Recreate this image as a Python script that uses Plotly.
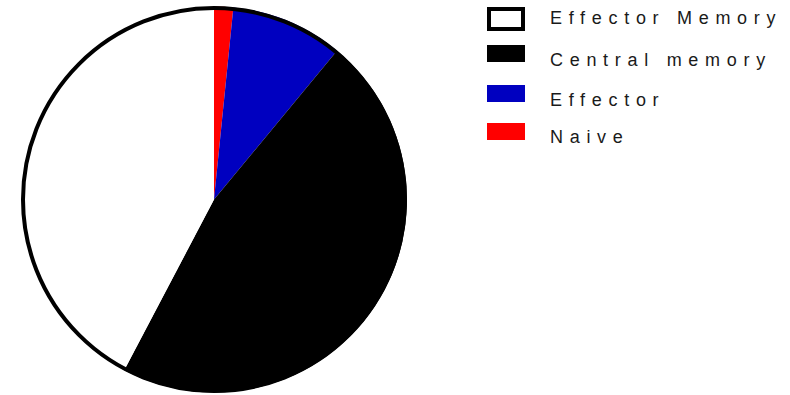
import plotly.graph_objects as go

# T-cell subset composition (percent), drawn clockwise from 12 o'clock
labels = ["Naive", "Effector", "Central memory", "Effector Memory"]
values = [1.6, 9.4, 46.7, 42.3]
colors = ["#FF0000", "#0000C0", "#000000", "#FFFFFF"]

# legend order, top to bottom
legend_order = ["Effector Memory", "Central memory", "Effector", "Naive"]

W, H = 790, 395


def px_x(x):
    return x / W


def px_y(y):
    return 1 - y / H


fig = go.Figure()
fig.add_trace(go.Pie(
    labels=labels,
    values=values,
    sort=False,
    direction="clockwise",
    rotation=0,
    marker=dict(colors=colors, line=dict(width=0)),
    textinfo="none",
    hoverinfo="label+percent",
    showlegend=False,
    domain=dict(x=[px_x(21), px_x(407)], y=[px_y(393), px_y(6)]),
))

shapes = [
    # outer outline of the pie
    dict(type="circle", xref="paper", yref="paper",
         x0=px_x(23), x1=px_x(405), y0=px_y(391), y1=px_y(8),
         line=dict(color="black", width=4), fillcolor="rgba(0,0,0,0)"),
]

annotations = []
color_of = dict(zip(labels, colors))
box_tops = [9, 45, 85, 123]
text_mid = [18, 60, 100, 137]
for name, top, ty in zip(legend_order, box_tops, text_mid):
    if name == "Effector Memory":
        shapes.append(dict(type="rect", xref="paper", yref="paper",
                           x0=px_x(489), x1=px_x(523), y0=px_y(29), y1=px_y(9),
                           line=dict(color="black", width=4), fillcolor="white"))
    else:
        shapes.append(dict(type="rect", xref="paper", yref="paper",
                           x0=px_x(487), x1=px_x(525), y0=px_y(top + 17), y1=px_y(top),
                           line=dict(width=0), fillcolor=color_of[name]))
    annotations.append(dict(
        text=name, xref="paper", yref="paper",
        x=px_x(548), y=px_y(ty), xanchor="left", yanchor="middle",
        align="left", showarrow=False,
        font=dict(family="Liberation Sans, Arial, sans-serif", size=18, color="#1a1a1a"),
    ))

fig.update_layout(
    width=W, height=H,
    margin=dict(l=0, r=0, t=0, b=0),
    paper_bgcolor="white",
    plot_bgcolor="white",
    shapes=shapes,
    annotations=annotations,
    showlegend=False,
)

spacing_js = """
var gd = document.getElementById('{plot_id}');
function spaceOut(){
  gd.querySelectorAll('.annotation-text').forEach(function(t){ t.style.letterSpacing = '6.7px'; });
}
spaceOut();
gd.on('plotly_afterplot', spaceOut);
"""

fig.write_html("out.html", post_script=spacing_js)
